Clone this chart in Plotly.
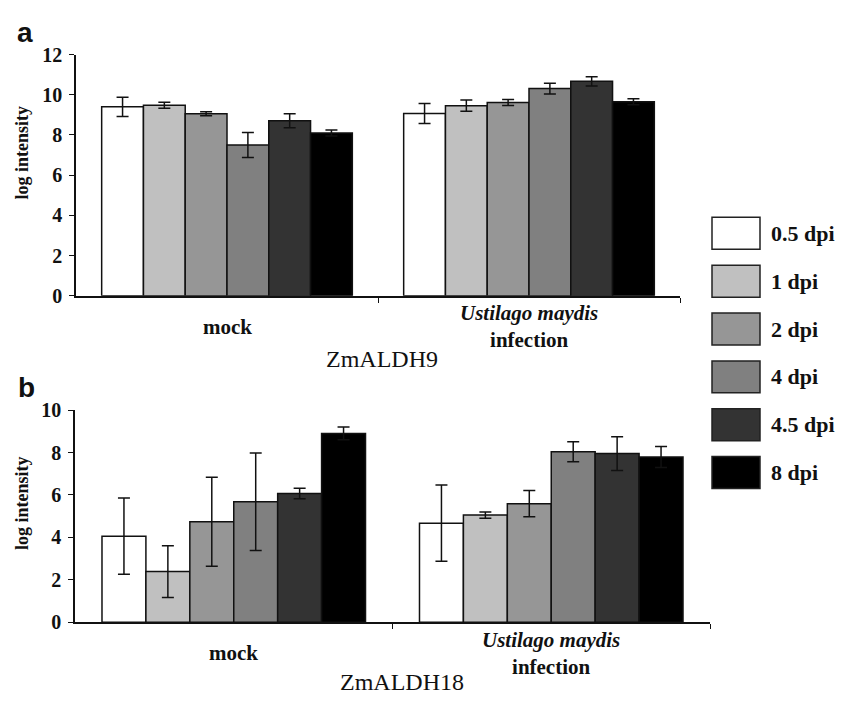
import plotly.graph_objects as go

# ---------------- data ----------------
categories = ["mock", "Ustilago maydis infection"]
category_labels = ["<b>mock</b>", "<b><i>Ustilago maydis</i></b><br><b>infection</b>"]
series = ["0.5 dpi", "1 dpi", "2 dpi", "4 dpi", "4.5 dpi", "8 dpi"]
colors = ["#ffffff", "#c0c0c0", "#969696", "#808080", "#333333", "#000000"]

# Panel a: ZmALDH9  (values per series: [mock, infection])
a_values = [[9.4, 9.07], [9.48, 9.46], [9.06, 9.62], [7.5, 10.31], [8.71, 10.67], [8.1, 9.65]]
a_errors = [[0.48, 0.5], [0.15, 0.28], [0.1, 0.15], [0.62, 0.27], [0.35, 0.23], [0.15, 0.15]]

# Panel b: ZmALDH18
b_values = [[4.06, 4.67], [2.39, 5.05], [4.74, 5.59], [5.68, 8.04], [6.07, 7.95], [8.9, 7.79]]
b_errors = [[1.8, 1.8], [1.22, 0.15], [2.1, 0.62], [2.3, 0.47], [0.25, 0.8], [0.3, 0.5]]

gene_a = "ZmALDH9"
gene_b = "ZmALDH18"
y_title = "log intensity"

# ---------------- figure ----------------
W, H = 861, 703
def px_y(p):
    return 1 - p / H
def px_x(p):
    return p / W

SERIF = "Liberation Serif, Times New Roman, serif"
INK = "#111111"

xpos = list(range(len(categories)))
fig = go.Figure()

for i, name in enumerate(series):
    fig.add_trace(go.Bar(
        x=xpos, y=a_values[i], name=name, xaxis="x", yaxis="y",
        marker=dict(color=colors[i], line=dict(color=INK, width=1.5)),
        error_y=dict(type="data", array=a_errors[i], color=INK, thickness=1.5, width=6),
        showlegend=False, offsetgroup=str(i),
    ))
    fig.add_trace(go.Bar(
        x=xpos, y=b_values[i], name=name, xaxis="x2", yaxis="y2",
        marker=dict(color=colors[i], line=dict(color=INK, width=1.5)),
        error_y=dict(type="data", array=b_errors[i], color=INK, thickness=1.5, width=6),
        showlegend=False, offsetgroup=str(i),
    ))

tickfont = dict(family=SERIF, size=20, color=INK, weight=700)
xcommon = dict(range=[-0.5, 1.5], showline=True, linecolor=INK, linewidth=1.5,
               tickvals=[0.5, 1.5], ticks="outside", ticklen=5, tickcolor=INK,
               showticklabels=False, showgrid=False, zeroline=False, fixedrange=True)
ycommon = dict(showline=True, linecolor=INK, linewidth=1.5, ticks="outside",
               ticklen=5, tickcolor=INK, tickfont=tickfont, dtick=2,
               showgrid=False, zeroline=False, ticklabelstandoff=3)

fig.update_layout(
    width=W, height=H, margin=dict(l=0, r=0, t=0, b=0),
    paper_bgcolor="white", plot_bgcolor="white",
    font=dict(family=SERIF, color=INK),
    barmode="group", bargap=0.17, bargroupgap=0,
    xaxis=dict(domain=[px_x(76), px_x(680)], anchor="y", **xcommon),
    yaxis=dict(domain=[px_y(294), px_y(45)], anchor="x", range=[0, 12], **ycommon),
    xaxis2=dict(domain=[px_x(75), px_x(710)], anchor="y2", **xcommon),
    yaxis2=dict(domain=[px_y(631), px_y(412)], anchor="x2", range=[0, 10], **ycommon),
)

ann = []
# category labels
for xa, ycen in (("x", 326), ("x2", 663)):
    for j, lab in enumerate(category_labels):
        ann.append(dict(x=xpos[j], xref=xa, y=px_y(ycen), yref="paper", text=lab,
                        showarrow=False, xanchor="center", yanchor="middle",
                        font=dict(family=SERIF, size=21, color=INK)))
# gene names
ann.append(dict(x=px_x(382), y=px_y(359), xref="paper", yref="paper", text=gene_a,
                showarrow=False, xanchor="center", yanchor="middle",
                font=dict(family=SERIF, size=24, color=INK)))
ann.append(dict(x=px_x(402), y=px_y(693), xref="paper", yref="paper", text=gene_b,
                showarrow=False, xanchor="center", yanchor="middle",
                font=dict(family=SERIF, size=24, color=INK)))
# y titles
for ycen in (146, 508):
    ann.append(dict(x=px_x(22), y=px_y(ycen), xref="paper", yref="paper", text="<b>" + y_title + "</b>",
                    textangle=-90, showarrow=False, xanchor="center", yanchor="middle",
                    font=dict(family=SERIF, size=18, color=INK)))
# panel letters
for letter, (cx, cy) in (("a", (25, 22)), ("b", (26, 389))):
    ann.append(dict(x=px_x(cx), y=px_y(cy), xref="paper", yref="paper", text="<b>" + letter + "</b>",
                    showarrow=False, xanchor="center", yanchor="middle",
                    font=dict(family="Liberation Sans, Arial, sans-serif", size=28, color=INK)))

# legend drawn as boxes + labels
shapes = []
for i, name in enumerate(series):
    top = 213 + i * 49.4
    shapes.append(dict(type="rect", xref="paper", yref="paper",
                       x0=px_x(712), x1=px_x(760), y0=px_y(top + 33), y1=px_y(top),
                       fillcolor=colors[i], line=dict(color="#222222", width=1.5)))
    ann.append(dict(x=px_x(769), y=px_y(top + 16.5), xref="paper", yref="paper",
                    text="<b>" + name + "</b>", showarrow=False, xanchor="left", yanchor="middle",
                    font=dict(family=SERIF, size=22, color=INK)))

fig.update_layout(annotations=ann, shapes=shapes)
fig.write_html("out.html")
